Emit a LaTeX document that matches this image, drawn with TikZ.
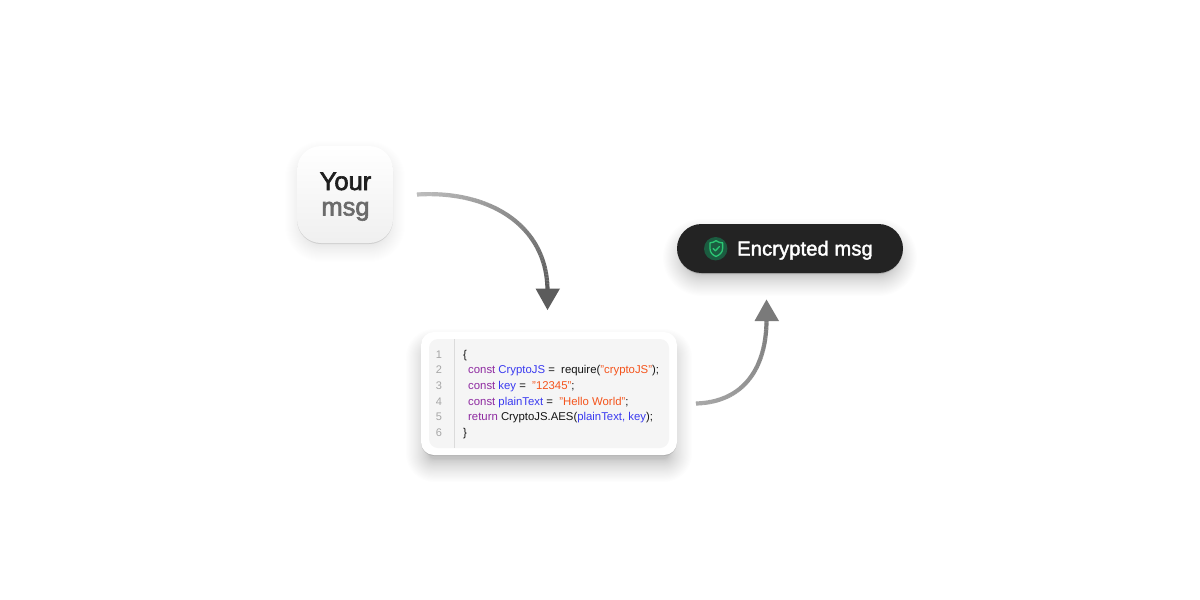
\documentclass[tikz,border=0pt]{standalone}
\usepackage{fontspec}
\setmainfont{Liberation Sans}
\usetikzlibrary{calc}
\definecolor{kw}{HTML}{8E2AA0}
\definecolor{var}{HTML}{3A3AF0}
\definecolor{str}{HTML}{F4541C}
\definecolor{ink}{HTML}{141414}
\definecolor{lnum}{HTML}{A6A6A6}
\definecolor{pill}{HTML}{232323}
\definecolor{shieldbg}{HTML}{1B5C40}
\definecolor{shieldfg}{HTML}{2BC673}
\newcommand{\softshadow}[8]{% x1,y1,x2,y2,radius,dy,spread,opacity
  \foreach \k in {0,...,29}{
    \pgfmathsetmacro{\gr}{#7*pow(1-\k/29,1.5)-8}
    \pgfmathsetmacro{\rr}{max(#5+\gr,1)}
    \fill[black,fill opacity=#8,rounded corners=\rr pt]
      (#1-\gr,#2+#6-\gr) rectangle (#3+\gr,#4+#6+\gr);
  }
  \fill[black,fill opacity=0.10,rounded corners=#5 pt] (#1,#2+1) rectangle (#3,#4+1);}
\newcommand{\gradcurve}[7]{% start,c1,c2,end,from,to,lw
  \draw[black!#5,line width=#7-1.2pt] (#1) .. controls (#2) and (#3) .. (#4);
  \path (#1) .. controls (#2) and (#3) .. (#4)
    \foreach \i in {0,...,60}{ coordinate[pos=\i/60] (gp\i) };
  \foreach \i [evaluate=\i as \j using int(\i+1),evaluate=\i as \m using #5+(#6-#5)*\i/59] in {0,...,59}{
    \draw[black!\m,line width=#7] (gp\i) -- (gp\j);
  }}
\tikzset{
  x=1pt,y=-1pt,
  codeline/.style={anchor=base west,inner sep=0pt,font=\fontsize{11.35}{13}\selectfont,text=ink},
  numline/.style={anchor=base,inner sep=0pt,font=\fontsize{11}{13}\selectfont,text=lnum},
  tile/.style={minimum width=96pt,minimum height=97pt,rounded corners=24pt,inner sep=0pt,top color=white,bottom color=black!6},
  tiletext/.style={anchor=base,inner sep=0pt,font=\fontsize{25.5}{30}\selectfont\addfontfeature{FakeBold=2.4}},
  card/.style={fill=white,minimum width=256pt,minimum height=123pt,rounded corners=13pt,inner sep=0pt},
  panel/.style={fill=black!4,minimum width=240pt,minimum height=109pt,rounded corners=9pt,inner sep=0pt},
  pillbox/.style={fill=pill,minimum width=226pt,minimum height=49pt,rounded corners=24.5pt,inner sep=0pt}
}
\begin{document}
\begin{tikzpicture}
\useasboundingbox (0,0) rectangle (1200,600);
\fill[white] (0,0) rectangle (1200,600);

% Your msg tile
\softshadow{297}{146}{393}{243}{24}{7}{20}{0.005}
\node[tile] (tile) at (345,194.5) {};
\node[tiletext,text=black!88] (your) at (345.5,190) {Your};
\node[tiletext,text=black!58] (msg) at (345.5,215.5) {msg};

% Code card
\softshadow{421}{332}{677}{455}{13}{12}{23}{0.0085}
\node[card] (card) at (549,393.5) {};
\node[panel] (panel) at (549,393.5) {};
\coordinate (divtop) at (454,339);
\coordinate (divbot) at (454,448);
\draw[black!14,line width=1pt] (divtop) -- (divbot);
\foreach \n/\y in {1/358,2/373.5,3/389.5,4/405,5/420.5,6/436}{
  \node[numline] (num\n) at (439,\y) {\n};
}
\node[codeline] (c1) at (463,358) {\{};
\node[codeline] (c2) at (468,373.5) {\textcolor{kw}{const} \textcolor{var}{CryptoJS} =\ \ require(\textcolor{str}{"cryptoJS"});};
\node[codeline] (c3) at (468,389.5) {\textcolor{kw}{const} \textcolor{var}{key} =\ \ \textcolor{str}{"12345"};};
\node[codeline] (c4) at (468,405) {\textcolor{kw}{const} \textcolor{var}{plainText} =\ \ \textcolor{str}{"Hello World"};};
\node[codeline] (c5) at (468,420.5) {\textcolor{kw}{return} CryptoJS.AES(\textcolor{var}{plainText, key});};
\node[codeline] (c6) at (463,436) {\}};

% Encrypted pill
\softshadow{677}{224}{903}{273}{24.5}{9}{22}{0.007}
\node[pillbox] (pill) at (790,248.5) {};
\node[circle,fill=shieldbg,minimum size=23.4pt,inner sep=0pt] (icon) at (715.7,248.7) {};
\draw[shieldfg,line width=1.3pt,line join=round]
  (710,242.8) .. controls (713,242.6) and (714.5,241.8) .. (716,240.6)
  .. controls (717.5,241.8) and (719,242.6) .. (722.6,242.8)
  -- (722.6,248.5) .. controls (722.6,252.5) and (719.5,255) .. (716,256.5)
  .. controls (712.5,255) and (710,252.5) .. (710,248.5) -- cycle;
\draw[shieldfg,line width=1.3pt,line cap=round,line join=round] (713.2,248.6) -- (715.4,250.8) -- (719.4,246.6);
\node[anchor=base west,inner sep=0pt,text=white,font=\fontsize{20.2}{24}\selectfont\addfontfeature{FakeBold=1.8,LetterSpace=0.4}] (enc) at (737,255.5) {Encrypted msg};

% Arrow 1
\coordinate (a1s) at (417,194.5);
\coordinate (a1c) at (490,190);
\coordinate (a1d) at (547,226);
\coordinate (a1e) at (547.5,290);
\gradcurve{a1s}{a1c}{a1d}{a1e}{26}{64}{4.2pt}
\coordinate (a1t) at (547.5,310);
\coordinate (a1l) at (535.5,288.5);
\coordinate (a1r) at (560,288.5);
\fill[black!64] (a1t) -- (a1l) -- (a1r) -- cycle;

% Arrow 2
\coordinate (a2s) at (696,403.5);
\coordinate (a2c) at (746,402);
\coordinate (a2d) at (767,365);
\coordinate (a2e) at (766.5,318);
\gradcurve{a2s}{a2c}{a2d}{a2e}{34}{52}{4.2pt}
\coordinate (a2t) at (766.5,299.5);
\coordinate (a2l) at (754.5,321);
\coordinate (a2r) at (779,321);
\fill[black!52] (a2t) -- (a2l) -- (a2r) -- cycle;
\end{tikzpicture}
\end{document}
